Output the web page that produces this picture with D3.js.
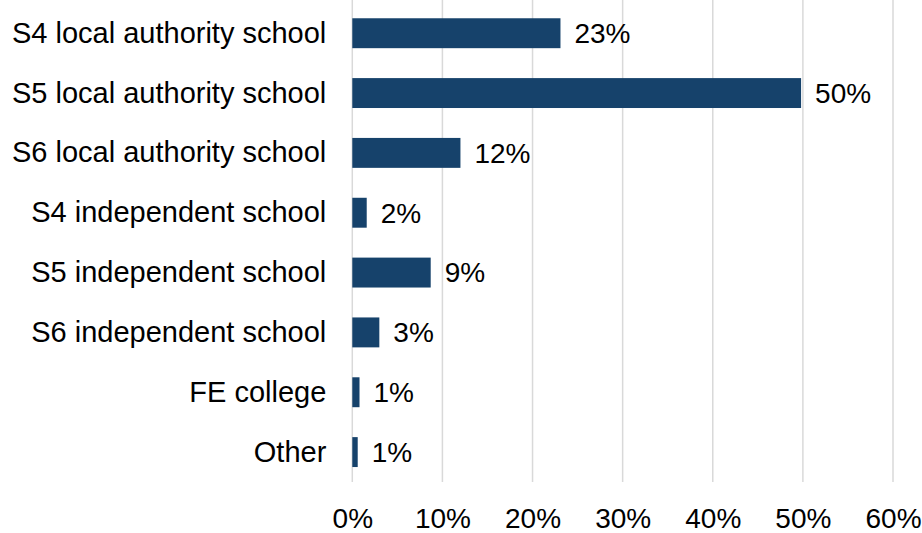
<!DOCTYPE html>
<html>
<head>
<meta charset="utf-8">
<script src="https://cdn.jsdelivr.net/npm/d3@7"></script>
<style>
  html, body { margin: 0; padding: 0; background: #ffffff; }
  svg text { font-family: "Liberation Sans", Arial, sans-serif; fill: #000000; }
</style>
</head>
<body>
<svg id="chart" width="922" height="533"></svg>
<script>
// Share of respondents by school stage / type (percent)
const categories = [
  "S4 local authority school",
  "S5 local authority school",
  "S6 local authority school",
  "S4 independent school",
  "S5 independent school",
  "S6 independent school",
  "FE college",
  "Other"
];
const shares = [23.1, 49.8, 12.0, 1.6, 8.7, 3.0, 0.8, 0.6];
const tickValues = [0, 10, 20, 30, 40, 50, 60];

const data = categories.map((c, i) => ({ category: c, value: shares[i] }));

const width = 922, height = 533;
const margin = { top: 3.3, right: 29, bottom: 51, left: 352.3 };
const labelSize = 29;
const valueSize = 28;

const svg = d3.select("#chart");

const x = d3.scaleLinear()
  .domain([0, 60])
  .range([margin.left, width - margin.right]);

const y = d3.scaleBand()
  .domain(categories)
  .range([margin.top, height - margin.bottom])
  .paddingInner(0.5)
  .paddingOuter(0.25);

// vertical gridlines, including the zero line
svg.append("g")
  .selectAll("line")
  .data(tickValues)
  .join("line")
  .attr("x1", d => x(d))
  .attr("x2", d => x(d))
  .attr("y1", 0)
  .attr("y2", height - margin.bottom)
  .attr("stroke", "#d9d9d9")
  .attr("stroke-width", 1.5);

// bars
svg.append("g")
  .selectAll("rect")
  .data(data)
  .join("rect")
  .attr("x", x(0))
  .attr("y", d => y(d.category))
  .attr("width", d => x(d.value) - x(0))
  .attr("height", y.bandwidth())
  .attr("fill", "#16426b");

// value labels
const pct = v => d3.format(".0f")(v) + "%";
svg.append("g")
  .selectAll("text")
  .data(data)
  .join("text")
  .attr("x", d => x(d.value) + 14)
  .attr("y", d => y(d.category) + y.bandwidth() / 2)
  .attr("dy", "0.35em")
  .attr("font-size", valueSize)
  .text(d => pct(d.value));

// category axis
const yAxis = d3.axisLeft(y).tickSize(0).tickPadding(26);
const gy = svg.append("g")
  .attr("transform", `translate(${margin.left},0)`)
  .call(yAxis);
gy.select(".domain").remove();
gy.selectAll("text")
  .attr("font-size", labelSize)
  .attr("font-family", null)
  .attr("dy", "0.33em");

// value axis
const xAxis = d3.axisBottom(x)
  .tickValues(tickValues)
  .tickSize(0)
  .tickPadding(26)
  .tickFormat(d => d + "%");
const gx = svg.append("g")
  .attr("transform", `translate(0,${height - margin.bottom})`)
  .call(xAxis);
gx.select(".domain").remove();
gx.selectAll("text")
  .attr("font-size", valueSize)
  .attr("font-family", null);
</script>
</body>
</html>
